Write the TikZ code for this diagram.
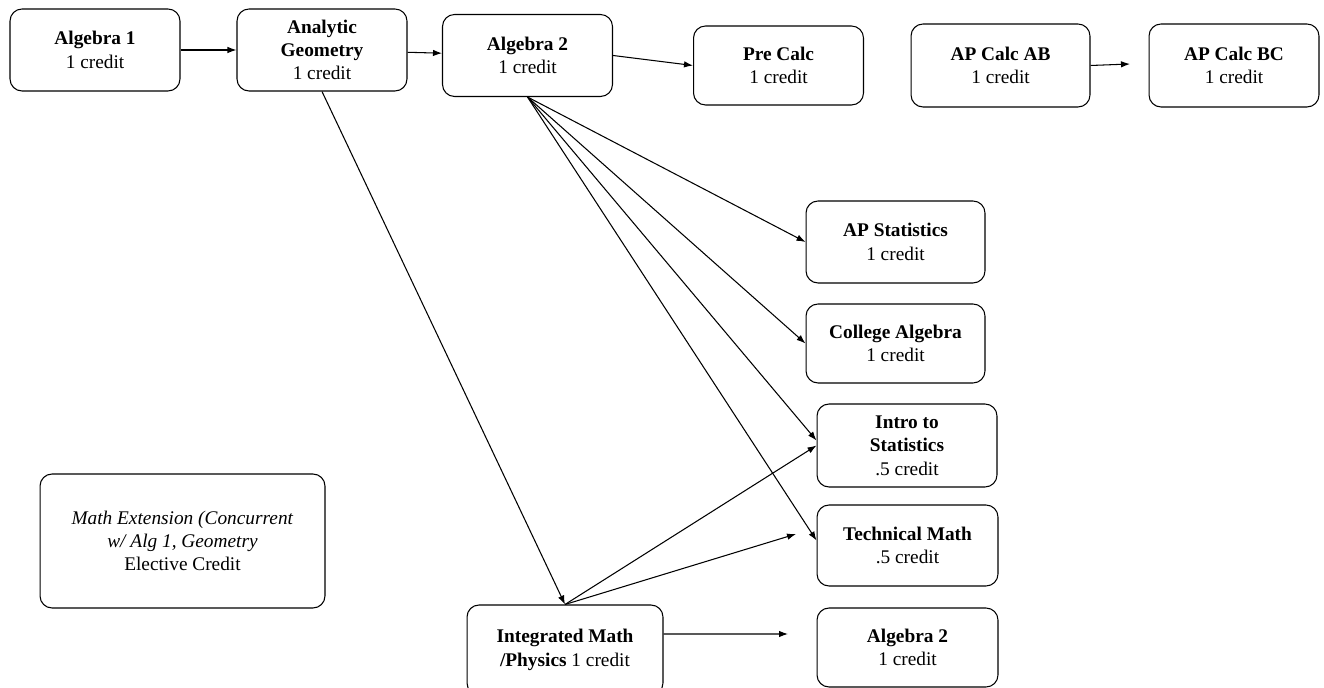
\documentclass[tikz,border=0pt]{standalone}
\usepackage{fontspec}
\setmainfont{Liberation Serif}
\usetikzlibrary{arrows.meta}

\begin{document}
\begin{tikzpicture}[x=0.02cm,y=-0.02cm]

    \tikzset{course/.style={draw,line width=0.6pt,rounded corners=2.4mm,align=center,inner sep=0pt,
        font=\fontsize{11}{13.3}\selectfont,minimum width=3.4cm,minimum height=1.64cm}}
    \useasboundingbox (0,0) rectangle (1324,688);

    % top row
    \node[course] (alg1) at (95,50) {\textbf{Algebra 1}\\1 credit};
    \node[course] (geom) at (322,50) {\textbf{Analytic}\\\textbf{Geometry}\\1 credit};
    \node[course] (alg2) at (527.5,55.5) {\textbf{Algebra 2}\\1 credit};
    \node[course,minimum height=1.58cm] (precalc) at (778.5,65.5) {\textbf{Pre Calc}\\1 credit};
    \node[course,minimum width=3.58cm,minimum height=1.66cm] (calcab) at (1000.5,65.5) {\textbf{AP Calc AB}\\1 credit};
    \node[course,minimum height=1.66cm] (calcbc) at (1234,65.5) {\textbf{AP Calc BC}\\1 credit};

    % right column
    \node[course,minimum width=3.58cm] (apstat) at (895.5,242) {\textbf{AP Statistics}\\1 credit};
    \node[course,minimum width=3.58cm,minimum height=1.58cm] (colalg) at (895.5,343.5) {\textbf{College Algebra}\\1 credit};
    \node[course,minimum width=3.6cm,minimum height=1.66cm] (intro) at (907,445.5) {\textbf{Intro to}\\\textbf{Statistics}\\.5 credit};
    \node[course,minimum width=3.62cm,minimum height=1.62cm] (tech) at (907.5,545.5) {\textbf{Technical Math}\\.5 credit};
    \node[course,minimum width=3.62cm,minimum height=1.58cm] (alg2b) at (907.5,647.5) {\textbf{Algebra 2}\\1 credit};

    % bottom left
    \node[course,minimum width=3.92cm,minimum height=1.8cm] (integ) at (565,650) {\textbf{Integrated Math}\\\textbf{/Physics} 1 credit};
    \node[course,minimum width=5.7cm,minimum height=2.68cm] (ext) at (182.5,541) {\textit{Math Extension (Concurrent}\\\textit{w/ Alg 1, Geometry}\\Elective Credit};

    \coordinate (bcend) at (1130,64);
    \coordinate (techend) at (796,534);
    \coordinate (alg2end) at (788,634);

    \begin{scope}[every path/.style={-{Latex[length=1.8mm,width=1.3mm]},line width=0.6pt}]
        \draw (alg1) -- (geom);
        \draw (geom) -- (alg2);
        \draw (alg2.east) -- (precalc.west);
        \draw (calcab.east) -- (bcend);
        \draw (alg2.south) -- (apstat.west);
        \draw (alg2.south) -- (colalg.west);
        \draw (alg2.south) -- ([yshift=0.1cm]intro.west);
        \draw (alg2.south) -- ([yshift=0.1cm]tech.west);
        \draw (geom.south) -- (integ.north);
        \draw (integ.north) -- (intro.west);
        \draw (integ.north) -- (techend);
        \draw ([yshift=0.32cm]integ.east) -- (alg2end);
    \end{scope}
\end{tikzpicture}
\end{document}
